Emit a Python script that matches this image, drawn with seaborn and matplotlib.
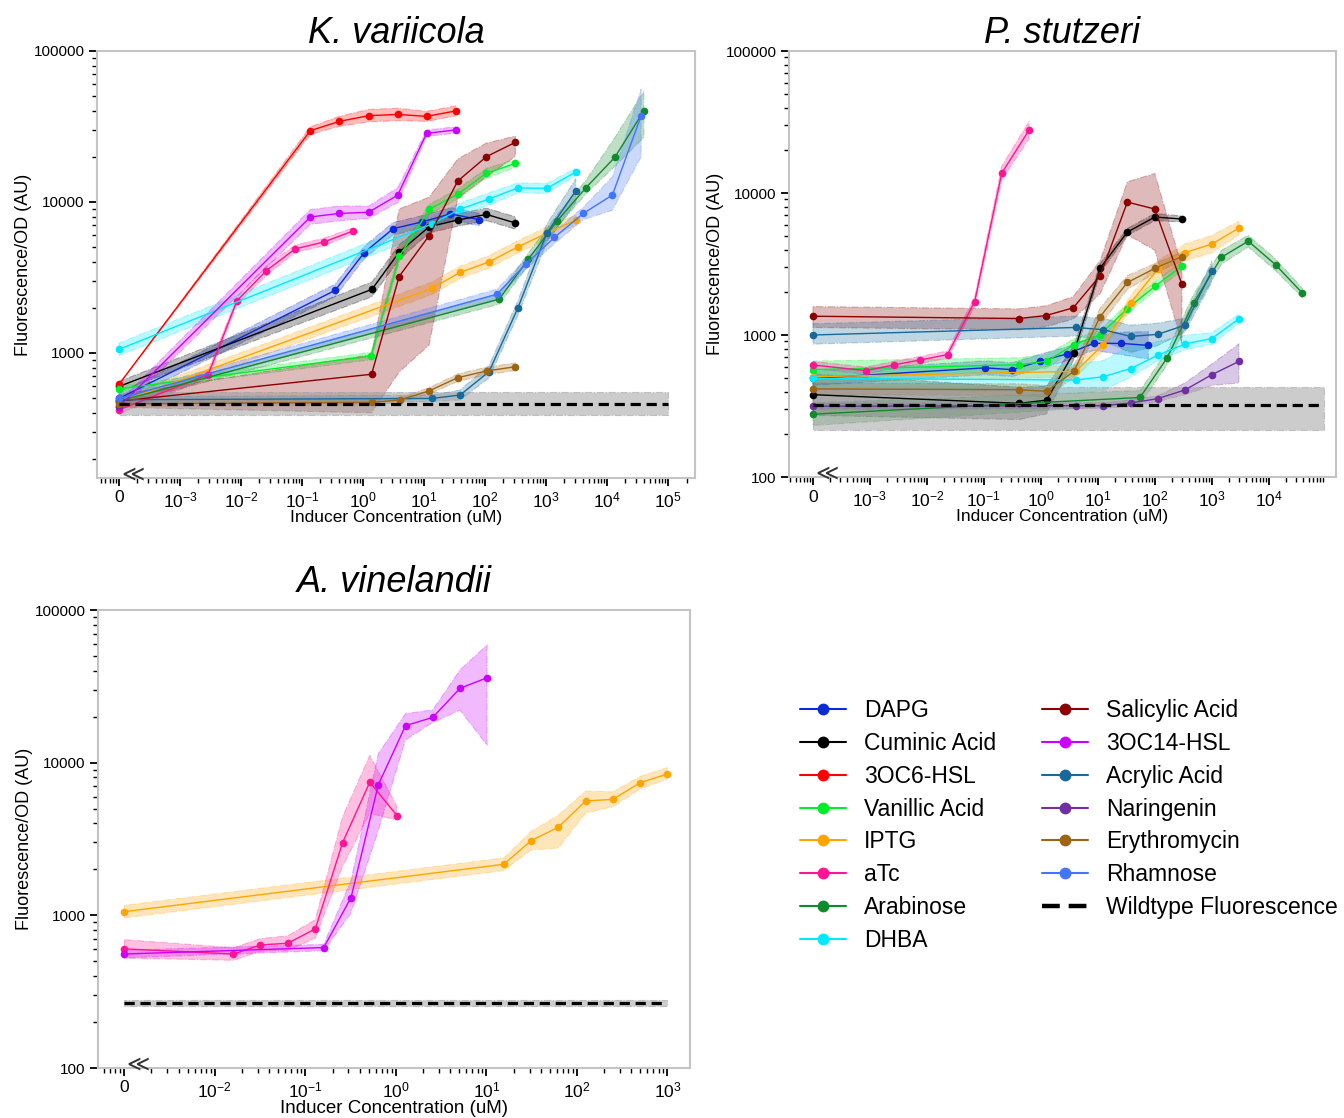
import numpy as np
import pandas as pd
import matplotlib
matplotlib.use("Agg")
import matplotlib.pyplot as plt
import matplotlib.transforms as mtransforms
import seaborn as sns
from matplotlib.lines import Line2D
from matplotlib.ticker import FixedLocator, FixedFormatter, LogLocator, NullFormatter

sns.set_style("ticks")
plt.rcParams['font.family'] = ['Liberation Sans', 'DejaVu Sans']
plt.rcParams['mathtext.default'] = 'regular'
plt.rcParams['text.color'] = 'black'
plt.rcParams['axes.labelcolor'] = 'black'
plt.rcParams['xtick.color'] = 'black'
plt.rcParams['ytick.color'] = 'black'

# inducer order / colours (legend order, filled column by column)
ORDER = ['DAPG', 'Cuminic Acid', '3OC6-HSL', 'Vanillic Acid', 'IPTG', 'aTc', 'Arabinose', 'DHBA',
         'Salicylic Acid', '3OC14-HSL', 'Acrylic Acid', 'Naringenin', 'Erythromycin', 'Rhamnose']
COLORS = {
    'DAPG': '#0b2bd6', 'Cuminic Acid': '#000000', '3OC6-HSL': '#ff0000', 'Vanillic Acid': '#00ee2a',
    'IPTG': '#ffa500', 'aTc': '#ff1493', 'Arabinose': '#0f8a2c', 'DHBA': '#00eaff',
    'Salicylic Acid': '#8b0000', '3OC14-HSL': '#cc00ff', 'Acrylic Acid': '#16699a',
    'Naringenin': '#7030a0', 'Erythromycin': '#9c6414', 'Rhamnose': '#4274ff',
}

# ---- K. variicola ----
KV_CONC = {
    'DAPG': [0, 0.35, 1.04, 3.1, 9.2, 27, 80],
    'Cuminic Acid': [0, 1.4, 3.9, 12.2, 36, 105, 314],
    '3OC6-HSL': [0, 0.137, 0.41, 1.23, 3.7, 11, 33],
    'Vanillic Acid': [0, 1.35, 3.95, 12.2, 36, 105, 314],
    'IPTG': [0, 13.4, 39, 116, 344, 1024, 3070],
    'aTc': [0, 0.0029, 0.0086, 0.026, 0.077, 0.23, 0.69],
    'Arabinose': [0, 170, 513, 1513, 4470, 13400, 40000],
    'DHBA': [0, 13.4, 39, 116, 344, 1024, 3070],
    'Salicylic Acid': [0, 1.38, 3.9, 12.1, 35.7, 105, 314],
    '3OC14-HSL': [0, 0.137, 0.41, 1.23, 3.7, 11, 33],
    'Acrylic Acid': [0, 13.4, 39, 116, 344, 1024, 3070],
    'Naringenin': [0],
    'Erythromycin': [0, 1.38, 4.1, 12.2, 36, 106, 314],
    'Rhamnose': [0, 156, 465, 1370, 4090, 12200, 36100],
}
KV_FLUO = {
    'DAPG': [500, 2600, 4610, 6650, 7380, 8340, 7650],
    'Cuminic Acid': [600, 2640, 4650, 6870, 7600, 8280, 7260],
    '3OC6-HSL': [620, 29700, 34200, 37300, 38000, 36900, 40100],
    'Vanillic Acid': [578, 955, 4380, 8950, 11300, 15500, 18000],
    'IPTG': [470, 2680, 3420, 4010, 5040, 6210, 7600],
    'aTc': [420, 720, 2220, 3510, 4890, 5440, 6430],
    'Arabinose': [480, 2270, 4190, 7480, 12400, 19800, 40100],
    'DHBA': [1057, 7150, 8960, 10470, 12400, 12300, 15800],
    'Salicylic Acid': [480, 723, 3210, 5980, 13770, 19960, 24840],
    '3OC14-HSL': [440, 7960, 8400, 8550, 11100, 28500, 30000],
    'Acrylic Acid': [490, 500, 527, 752, 1980, 6210, 11900],
    'Naringenin': [445],
    'Erythromycin': [460, 471, 489, 562, 687, 760, 811],
    'Rhamnose': [500, 2450, 3880, 5830, 8410, 11120, 37300],
}
# band: lower = value / LO, upper = value * HI (HI defaults to LO)
KV_LO = {
    'DAPG': [1.08, 1.1, 1.1, 1.1, 1.1, 1.1, 1.1],
    'Cuminic Acid': [1.08, 1.12, 1.12, 1.1, 1.1, 1.1, 1.1],
    '3OC6-HSL': [1.0, 1.06, 1.08, 1.1, 1.1, 1.08, 1.08],
    'Vanillic Acid': [1.05, 1.06, 1.08, 1.08, 1.08, 1.08, 1.06],
    'IPTG': [1.08, 1.1, 1.1, 1.1, 1.1, 1.1, 1.08],
    'aTc': [1.06, 1.06, 1.06, 1.08, 1.06, 1.06, 1.05],
    'Arabinose': [1.06, 1.08, 1.1, 1.1, 1.1, 1.15, 1.5],
    'DHBA': [1.1, 1.12, 1.1, 1.1, 1.08, 1.08, 1.06],
    'Salicylic Acid': [1.1, 1.8, 4.3, 5.3, 1.3, 1.36, 1.24],
    '3OC14-HSL': [1.08, 1.12, 1.12, 1.1, 1.12, 1.05, 1.05],
    'Acrylic Acid': [1.05, 1.05, 1.08, 1.1, 1.12, 1.15, 1.2],
    'Naringenin': [1.05],
    'Erythromycin': [1.04, 1.04, 1.04, 1.05, 1.06, 1.06, 1.06],
    'Rhamnose': [1.06, 1.08, 1.08, 1.1, 1.1, 1.26, 1.87],
}
KV_HI = {
    'Salicylic Acid': [1.1, 1.35, 2.8, 1.8, 1.4, 1.23, 1.1],
    'Arabinose': [1.06, 1.08, 1.1, 1.1, 1.12, 1.35, 1.35],
    'Rhamnose': [1.06, 1.08, 1.08, 1.1, 1.1, 1.32, 1.5],
}
KV_WT = [388, 459, 552]

# ---- P. stutzeri ----
PS_CONC = {
    'DAPG': [0, 0.105, 0.316, 0.95, 2.85, 8.5, 25.6, 77],
    'Cuminic Acid': [0, 0.42, 1.26, 3.8, 11, 33, 100, 300],
    'Vanillic Acid': [0, 0.42, 1.26, 3.8, 11, 33, 100, 300],
    'IPTG': [0, 4.1, 12.4, 37.5, 112, 337, 1000, 3000],
    'aTc': [0, 0.00085, 0.0026, 0.0077, 0.023, 0.069, 0.206, 0.62],
    'Arabinose': [0, 55, 164, 480, 1480, 4370, 13200, 39000],
    'DHBA': [0, 4.1, 12.4, 37.5, 112, 337, 1000, 3000],
    'Salicylic Acid': [0, 0.41, 1.23, 3.7, 11, 33, 100, 300],
    'Acrylic Acid': [0, 4.1, 12.4, 37.5, 112, 337, 1000],
    'Naringenin': [0, 4.1, 12.4, 37.5, 112, 337, 1000, 3000],
    'Erythromycin': [0, 0.42, 1.26, 3.8, 11, 33, 100, 300],
}
PS_FLUO = {
    'DAPG': [495, 587, 570, 652, 735, 873, 873, 845],
    'Cuminic Acid': [380, 330, 348, 752, 2960, 5310, 6770, 6560],
    'Vanillic Acid': [570, 618, 652, 855, 1007, 1535, 2200, 3060],
    'IPTG': [508, 555, 855, 1683, 2900, 3800, 4370, 5660],
    'aTc': [615, 561, 615, 667, 728, 1720, 13800, 27700],
    'Arabinose': [277, 363, 689, 1683, 3530, 4580, 3120, 1970],
    'DHBA': [495, 482, 508, 580, 720, 865, 944, 1300],
    'Salicylic Acid': [1356, 1306, 1371, 1553, 2620, 8630, 7710, 2270],
    'Acrylic Acid': [1000, 1130, 1090, 978, 1010, 1172, 2820],
    'Naringenin': [315, 318, 318, 332, 356, 410, 525, 652],
    'Erythromycin': [417, 412, 401, 555, 1349, 2344, 2945, 3570],
}
PS_LO = {
    'DAPG': [1.12, 1.12, 1.12, 1.12, 1.12, 1.12, 1.2, 1.25],
    'Cuminic Acid': [1.4, 1.3, 1.25, 1.12, 1.08, 1.06, 1.06, 1.05],
    'Vanillic Acid': [1.15, 1.12, 1.12, 1.1, 1.08, 1.08, 1.08, 1.08],
    'IPTG': [1.1, 1.1, 1.1, 1.12, 1.15, 1.15, 1.15, 1.12],
    'aTc': [1.06, 1.06, 1.06, 1.06, 1.06, 1.08, 1.12, 1.15],
    'Arabinose': [1.2, 1.12, 1.12, 1.15, 1.12, 1.1, 1.1, 1.08],
    'DHBA': [1.15, 1.25, 1.25, 1.15, 1.1, 1.1, 1.1, 1.08],
    'Salicylic Acid': [1.2, 1.2, 1.2, 1.2, 1.34, 1.7, 1.95, 2.6],
    'Acrylic Acid': [1.16, 1.15, 1.2, 1.3, 1.2, 1.12, 1.2],
    'Naringenin': [1.05, 1.05, 1.05, 1.05, 1.05, 1.08, 1.19, 1.42],
    'Erythromycin': [1.1, 1.1, 1.1, 1.1, 1.15, 1.12, 1.08, 1.08],
}
PS_HI = {
    'DHBA': [1.15, 1.3, 1.3, 1.45, 1.25, 1.15, 1.1, 1.08],
    'Salicylic Acid': [1.17, 1.17, 1.17, 1.2, 1.28, 1.39, 1.78, 1.33],
    'Acrylic Acid': [1.2, 1.2, 1.2, 1.2, 1.2, 1.12, 1.17],
    'Naringenin': [1.05, 1.05, 1.05, 1.05, 1.05, 1.12, 1.19, 1.33],
}
PS_WT = [214, 322, 432]

# ---- A. vinelandii ----
AV_CONC = {
    'IPTG': [0, 15.6, 31.2, 62.5, 125, 250, 500, 1000],
    'aTc': [0, 0.0161, 0.032, 0.064, 0.129, 0.258, 0.516, 1.03],
    '3OC14-HSL': [0, 0.16, 0.32, 0.64, 1.28, 2.56, 5.12, 10.2],
}
AV_FLUO = {
    'IPTG': [1057, 2160, 3080, 3780, 5610, 5750, 7390, 8430],
    'aTc': [603, 558, 640, 656, 815, 2990, 7450, 4500],
    '3OC14-HSL': [558, 615, 1306, 7150, 17470, 19800, 30700, 36000],
}
AV_LO = {
    'IPTG': [1.1, 1.1, 1.15, 1.37, 1.2, 1.12, 1.1, 1.08],
    'aTc': [1.15, 1.1, 1.1, 1.12, 1.15, 1.43, 1.6, 1.07],
    '3OC14-HSL': [1.06, 1.05, 1.26, 2.0, 1.24, 1.08, 1.39, 2.77],
}
AV_HI = {
    'IPTG': [1.1, 1.1, 1.15, 1.2, 1.16, 1.12, 1.1, 1.1],
    'aTc': [1.15, 1.1, 1.1, 1.12, 1.15, 1.48, 1.5, 1.15],
    '3OC14-HSL': [1.06, 1.05, 1.3, 1.6, 1.2, 1.12, 1.32, 1.64],
}
AV_WT = [255, 265, 278]


def draw_panel(ax, conc, fluo, lo, hi, wt, zero, wt_end, xlim, ylim, decades, title,
               xlab_size, title_pad):
    ax.set_xscale('log')
    ax.set_yscale('log')
    names = [n for n in ORDER if n in conc]
    rows = []
    for name in names:
        x = np.array([zero if c == 0 else c for c in conc[name]], dtype=float)
        y = np.array(fluo[name], dtype=float)
        f_lo = np.array(lo[name])
        f_hi = np.array(hi.get(name, lo[name]))
        if len(x) > 1:
            ax.fill_between(x, y / f_lo, y * f_hi, color=COLORS[name], alpha=0.27,
                            linewidth=0.8, linestyle='-.', zorder=1)
        rows += [{'inducer': name, 'x': a, 'y': b} for a, b in zip(x, y)]
    df = pd.DataFrame(rows)

    # wildtype band + dashed mean
    ax.fill_between([zero, wt_end], [wt[0]] * 2, [wt[2]] * 2, color='#9a9a9a', alpha=0.5,
                    linewidth=0.8, linestyle='-.', zorder=1.5)
    sns.lineplot(data=df, x='x', y='y', hue='inducer', hue_order=names, palette=COLORS,
                 estimator=None, marker='o', markersize=5.5, markeredgewidth=0,
                 linewidth=1.0, legend=False, ax=ax, zorder=2)
    wt_df = pd.DataFrame({'x': [zero, wt_end], 'y': [wt[1], wt[1]]})
    sns.lineplot(data=wt_df, x='x', y='y', color='black', linewidth=2.3,
                 linestyle=(0, (3.2, 1.8)), ax=ax, zorder=3)

    ax.set_xlim(10 ** xlim[0], 10 ** xlim[1])
    ax.set_ylim(*ylim)

    xt = [zero] + [10.0 ** k for k in decades]
    xl = ['0'] + ['$10^{%d}$' % k for k in decades]
    ax.xaxis.set_major_locator(FixedLocator(xt))
    ax.xaxis.set_major_formatter(FixedFormatter(xl))
    ax.xaxis.set_minor_locator(LogLocator(base=10, subs=np.arange(2, 10) * 1.0, numticks=60))
    ax.xaxis.set_minor_formatter(NullFormatter())

    yt = [v for v in [100, 1000, 10000, 100000] if ylim[0] <= v <= ylim[1]]
    ax.yaxis.set_major_locator(FixedLocator(yt))
    ax.yaxis.set_major_formatter(FixedFormatter([str(v) for v in yt]))
    ax.yaxis.set_minor_locator(LogLocator(base=10, subs=np.arange(2, 10) * 1.0, numticks=60))
    ax.yaxis.set_minor_formatter(NullFormatter())

    ax.tick_params(which='major', length=6, width=1.3, color='black', labelsize=11, pad=3)
    ax.tick_params(axis='x', which='major', labelsize=12.5)
    ax.tick_params(which='minor', length=3.5, width=1.0, color='black')
    for sp in ax.spines.values():
        sp.set_visible(True)
        sp.set_color('#c4c4c4')
        sp.set_linewidth(1.5)

    ax.set_xlabel('Inducer Concentration (uM)', fontsize=xlab_size, labelpad=0)
    ax.set_ylabel('Fluorescence/OD (AU)', fontsize=13, labelpad=1)
    ax.set_title(title, fontsize=26, style='italic', pad=title_pad)

    # axis break mark next to the zero position
    trans = mtransforms.blended_transform_factory(ax.transData, ax.transAxes)
    trans = mtransforms.offset_copy(trans, fig=ax.figure, x=14, y=4, units='dots')
    ax.text(zero, 0, '\u226A', transform=trans, ha='center', va='center', fontsize=16,
            color='#333333', family=['DejaVu Sans'])


fig = plt.figure(figsize=(13.44, 11.18), dpi=100)
W, H = 1344, 1118
ax1 = fig.add_axes([97 / W, 1 - 478 / H, 598 / W, 427 / H])
ax2 = fig.add_axes([789 / W, 1 - 477 / H, 547 / W, 426 / H])
ax3 = fig.add_axes([98 / W, 1 - 1068 / H, 592 / W, 458 / H])

draw_panel(ax1, KV_CONC, KV_FLUO, KV_LO, KV_HI, KV_WT, 1e-4, 1e5,
           (-4.36, 5.44), (148.6, 1e5), range(-3, 6), 'K. variicola', 12.5, 3)
draw_panel(ax2, PS_CONC, PS_FLUO, PS_LO, PS_HI, PS_WT, 1e-4, 9.5e4,
           (-4.42, 5.18), (100, 1e5), range(-3, 5), 'P. stutzeri', 12.5, 3)
draw_panel(ax3, AV_CONC, AV_FLUO, AV_LO, AV_HI, AV_WT, 1e-3, 1e3,
           (-3.29, 3.25), (100, 1e5), range(-2, 4), 'A. vinelandii', 13.5, 13)

handles = [Line2D([0], [0], color=COLORS[n], marker='o', markersize=8.5, markeredgewidth=0,
                  linewidth=1.5) for n in ORDER]
handles.append(Line2D([0], [0], color='black', linewidth=3.2, linestyle=(0, (4, 2))))
labels = ORDER + ['Wildtype Fluorescence']
fig.legend(handles, labels, loc='upper left', bbox_to_anchor=(800 / W, 1 - 699 / H), ncol=2,
           frameon=False, fontsize=16.5, handlelength=2.0, handletextpad=0.8,
           columnspacing=2.0, labelspacing=0.43, borderaxespad=0, borderpad=0)

fig.savefig('out.png', dpi=100, facecolor='white')
